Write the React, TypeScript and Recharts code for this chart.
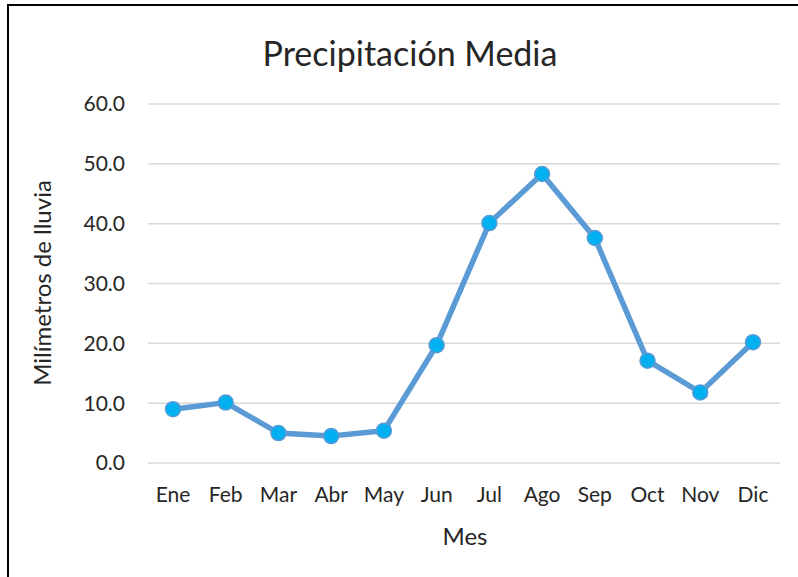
import React from "react";
import { LineChart, Line, XAxis, YAxis, CartesianGrid } from "recharts";

const months = ["Ene", "Feb", "Mar", "Abr", "May", "Jun", "Jul", "Ago", "Sep", "Oct", "Nov", "Dic"];
const rainfall = [9.0, 10.1, 5.0, 4.5, 5.4, 19.7, 40.1, 48.3, 37.6, 17.1, 11.8, 20.2];
const yTicks = [0, 10, 20, 30, 40, 50, 60];

const data = months.map((m, i) => ({ mes: m, lluvia: rainfall[i] }));

const font = "Lato, 'Open Sans', sans-serif";
const textColor = "#262626";

export default function App() {
  return (
    <div
      style={{
        position: "absolute",
        left: 0,
        top: 0,
        width: 798,
        height: 577,
        overflow: "hidden",
        background: "#fff",
        fontFamily: font,
      }}
    >
      {/* outer frame, only top and left edges fall inside the picture */}
      <div
        style={{
          position: "absolute",
          left: 7,
          top: 4,
          width: 820,
          height: 620,
          border: "2px solid #000",
          boxSizing: "border-box",
        }}
      />
      <div
        style={{
          position: "absolute",
          left: 410,
          top: 52,
          transform: "translate(-50%, -50%)",
          whiteSpace: "nowrap",
          fontSize: 34,
          color: textColor,
        }}
      >
        Precipitación Media
      </div>
      <div
        style={{
          position: "absolute",
          left: 41,
          top: 283,
          transform: "translate(-50%, -50%) rotate(-90deg)",
          whiteSpace: "nowrap",
          fontSize: 24,
          color: textColor,
        }}
      >
        Milímetros de lluvia
      </div>
      <div
        style={{
          position: "absolute",
          left: 465,
          top: 535,
          transform: "translate(-50%, -50%)",
          fontSize: 24,
          color: textColor,
        }}
      >
        Mes
      </div>
      <div style={{ position: "absolute", left: 0, top: 0 }}>
        <LineChart
          width={798}
          height={577}
          data={data}
          margin={{ top: 104, right: 18, bottom: 84, left: 0 }}
        >
          <CartesianGrid vertical={false} stroke="#d9d9d9" strokeWidth={1.5} />
          <XAxis
            dataKey="mes"
            height={30}
            axisLine={false}
            tickLine={false}
            tickSize={0}
            tickMargin={24}
            padding={{ left: 25, right: 27 }}
            interval={0}
            tick={{ fontSize: 21, fill: textColor, fontFamily: font }}
          />
          <YAxis
            width={148}
            domain={[0, 60]}
            ticks={yTicks}
            axisLine={false}
            tickLine={false}
            tickSize={0}
            tickMargin={23}
            tickFormatter={(v: number) => v.toFixed(1)}
            tick={{ fontSize: 21, fill: textColor, fontFamily: font }}
          />
          <Line
            type="linear"
            dataKey="lluvia"
            stroke="#5b9bd5"
            strokeWidth={5.5}
            dot={{ r: 7.5, fill: "#00b0f0", stroke: "#5b9bd5", strokeWidth: 1.5 }}
            isAnimationActive={false}
          />
        </LineChart>
      </div>
    </div>
  );
}
